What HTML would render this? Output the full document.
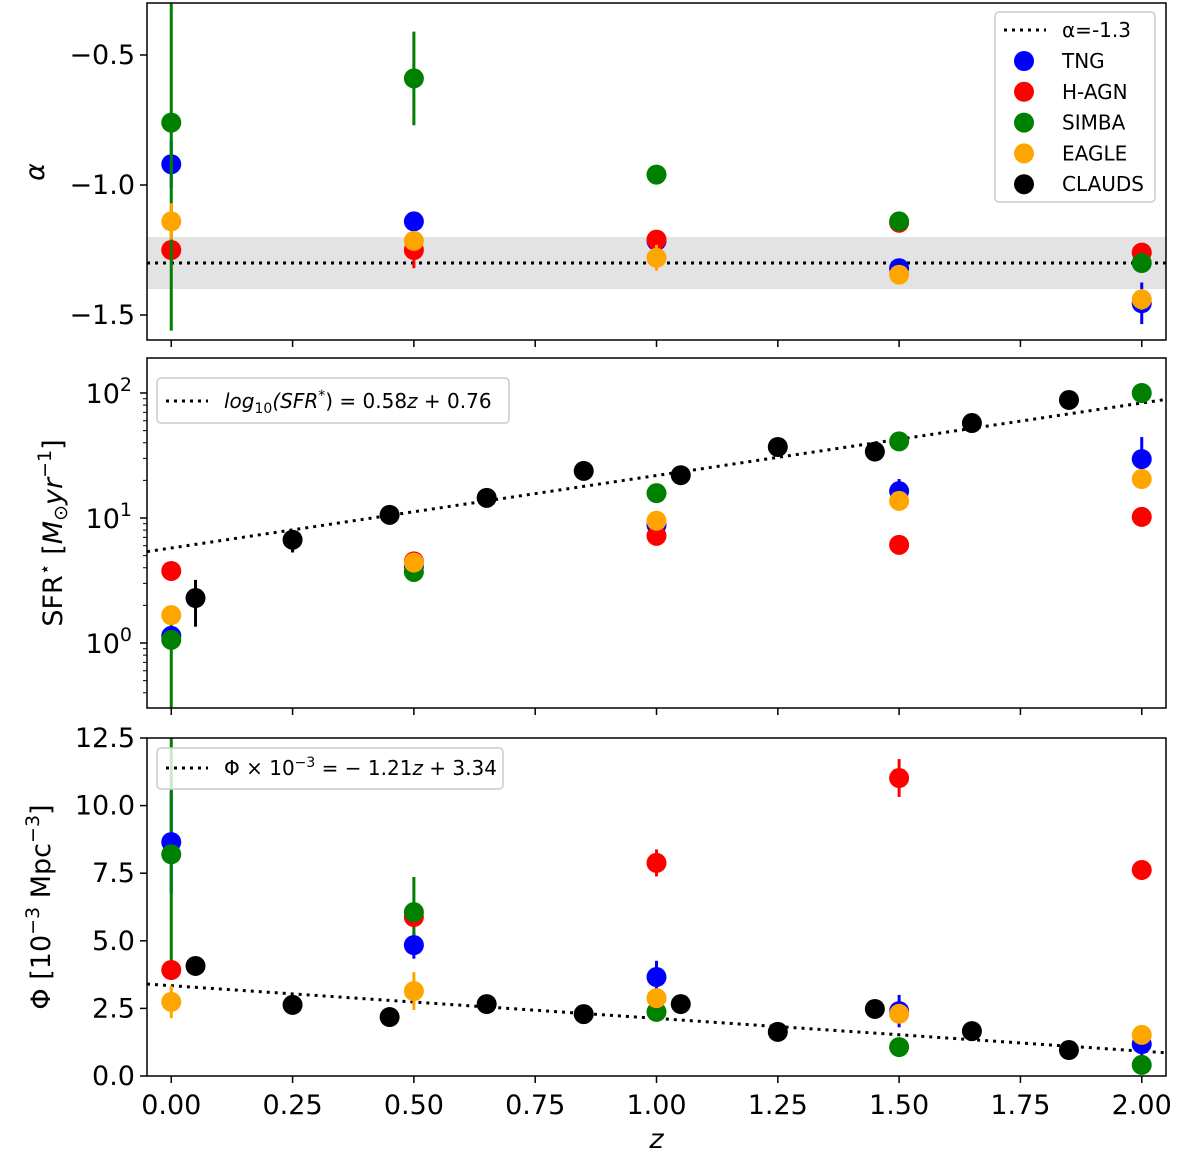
<!DOCTYPE html>
<html><head><meta charset="utf-8"><style>
body{margin:0;background:#fff}
svg{display:block;font-family:"DejaVu Sans","Liberation Sans",sans-serif}
</style></head><body>
<svg id="chart" width="1200" height="1166" viewBox="0 0 1200 1166" xmlns="http://www.w3.org/2000/svg"></svg>
<script>
const zTicks=[0,0.25,0.5,0.75,1,1.25,1.5,1.75,2];
const zTickLabels=["0.00","0.25","0.50","0.75","1.00","1.25","1.50","1.75","2.00"];
const simZ=[0,0.5,1,1.5,2];
const claudsZ=[0.05,0.25,0.45,0.65,0.85,1.05,1.25,1.45,1.65,1.85];
// alpha panel
const alphaTNG=[-0.92,-1.14,-1.215,-1.32,-1.455];
const alphaTNGerr=[0.09,0.02,0.03,0.03,0.08];
const alphaHAGN=[-1.25,-1.25,-1.21,-1.145,-1.26];
const alphaHAGNerr=[0.02,0.07,0.02,0.02,0.02];
const alphaSIMBA=[-0.76,-0.59,-0.96,-1.14,-1.30];
const alphaSIMBAerr=[0.8,0.18,0.02,0.02,0.02];
const alphaEAGLE=[-1.14,-1.215,-1.28,-1.345,-1.44];
const alphaEAGLEerr=[0.07,0.03,0.05,0.02,0.04];
const alphaTicks=[-0.5,-1.0,-1.5];
const alphaTickLabels=["\u22120.5","\u22121.0","\u22121.5"];
// SFR panel
const sfrTNG=[1.14,4.1,8.8,16.4,29.6];
const sfrHAGN=[3.77,4.5,7.2,6.1,10.2];
const sfrSIMBA=[1.06,3.7,15.8,41,100];
const sfrEAGLE=[1.67,4.4,9.5,13.7,20.5];
const sfrCLAUDS=[2.29,6.7,10.6,14.5,23.8,22,37,34,57.5,88];
const sfrTicks=[0,1,2];
// Phi panel
const phiTNG=[8.65,4.84,3.66,2.4,1.18];
const phiTNGerr=[1.9,0.5,0.6,0.6,0.7];
const phiHAGN=[3.92,5.88,7.88,11.02,7.62];
const phiHAGNerr=[0.3,0.3,0.5,0.7,0.2];
const phiSIMBA=[8.2,6.06,2.37,1.07,0.41];
const phiSIMBAerr=[4.4,1.3,0.2,0.1,0.1];
const phiEAGLE=[2.74,3.14,2.88,2.3,1.52];
const phiEAGLEerr=[0.6,0.7,0.3,0.3,0.3];
const phiCLAUDS=[4.07,2.63,2.18,2.66,2.29,2.66,1.63,2.48,1.66,0.96];
const phiTicks=[0,2.5,5,7.5,10,12.5];
const phiTickLabels=["0.0","2.5","5.0","7.5","10.0","12.5"];

const svg=document.getElementById('chart');
const NS="http://www.w3.org/2000/svg";
function el(tag,attrs,parent){const e=document.createElementNS(NS,tag);for(const k in attrs)e.setAttribute(k,attrs[k]);(parent||svg).appendChild(e);return e;}
const X0=147,X1=1166;
const FS=27;
function xs(z){return X0+(z+0.05)/2.1*(X1-X0);}
const C={TNG:"#0000ff",HAGN:"#ff0000",SIMBA:"#008000",EAGLE:"#ffa500",CLAUDS:"#000000"};

function frame(top,bot,name){
  const g=el('g',{});
  
  
  zTicks.forEach((t,i)=>{el('line',{x1:xs(t),x2:xs(t),y1:bot,y2:bot+7,stroke:'#000','stroke-width':1.5},g);});
  return g;
}
function border(top,bot){el('rect',{x:X0,y:top,width:X1-X0,height:bot-top,fill:'none',stroke:'#000','stroke-width':1.5});}
function errbar(x,y1,y2,col,top,bot){y1=Math.max(top,Math.min(bot,y1));y2=Math.max(top,Math.min(bot,y2));const l=el('line',{x1:x,x2:x,y1:y1,y2:y2,stroke:col,'stroke-width':3});}
function dot(x,y,col,name){const c=el('circle',{cx:x,cy:y,r:10,fill:col});}
function ytick(y,label){el('line',{x1:X0-7,x2:X0,y1:y,y2:y,stroke:'#000','stroke-width':1.5});if(label!==null){const t=el('text',{x:X0-12,y:y+9,'text-anchor':'end','font-size':FS});t.textContent=label;}}

// ---- Panel 1 ----
const P1t=3,P1b=340;
function ya(v){return 55+(-0.5-v)*260;}
frame(P1t,P1b,'alpha-panel');
el('rect',{x:X0,y:ya(-1.2),width:X1-X0,height:ya(-1.4)-ya(-1.2),fill:'#e3e3e3'});
el('line',{x1:X0,x2:X1,y1:ya(-1.3),y2:ya(-1.3),stroke:'#000','stroke-width':3,'stroke-dasharray':'3,5'});
const p1=[[alphaTNG,alphaTNGerr,'TNG'],[alphaHAGN,alphaHAGNerr,'HAGN'],[alphaSIMBA,alphaSIMBAerr,'SIMBA'],[alphaEAGLE,alphaEAGLEerr,'EAGLE']];
p1.forEach(([v,e,k])=>simZ.forEach((z,i)=>{errbar(xs(z),ya(v[i]+e[i]),ya(v[i]-e[i]),C[k],P1t,P1b);dot(xs(z),ya(v[i]),C[k],'alpha-'+k.toLowerCase()+'-point');}));
alphaTicks.forEach((t,i)=>ytick(ya(t),alphaTickLabels[i]));
border(P1t,P1b);
let t=el('text',{x:44,y:172,'font-size':FS,'font-style':'italic','text-anchor':'middle',transform:'rotate(-90 44 172)'});t.textContent='α';
const lg=el('g',{});
el('rect',{x:995,y:12,width:160,height:190,rx:4,fill:'#fff','fill-opacity':0.8,stroke:'#ccc','stroke-width':1.5},lg);
el('line',{x1:1004,x2:1046,y1:30,y2:30,stroke:'#000','stroke-width':3,'stroke-dasharray':'3,5'},lg);
let tt=el('text',{x:1062,y:37,'font-size':20},lg);tt.textContent='α=-1.3';
[['TNG','TNG'],['HAGN','H-AGN'],['SIMBA','SIMBA'],['EAGLE','EAGLE'],['CLAUDS','CLAUDS']].forEach(([k,n],i)=>{const y=61+i*30.8;el('circle',{cx:1024,cy:y,r:10,fill:C[k]},lg);const tx=el('text',{x:1062,y:y+7,'font-size':20},lg);tx.textContent=n;});

// ---- Panel 2 ----
const P2t=358,P2b=708;
function ys(v){return 393+(2-Math.log10(v))*125;}
frame(P2t,P2b,'sfr-panel');
el('line',{x1:X0,x2:X1,y1:ys(Math.pow(10,0.58*-0.05+0.76)),y2:ys(Math.pow(10,0.58*2.05+0.76)),stroke:'#000','stroke-width':3,'stroke-dasharray':'3,5'});
const p2=[[sfrTNG,'TNG'],[sfrHAGN,'HAGN'],[sfrSIMBA,'SIMBA'],[sfrEAGLE,'EAGLE']];
errbar(xs(0),ys(1.7),ys(0.3),C.SIMBA,P2t,P2b);
errbar(xs(2),ys(sfrTNG[4]*1.5),ys(sfrTNG[4]*0.75),C.TNG,P2t,P2b);
errbar(xs(1.5),ys(sfrTNG[3]*1.25),ys(sfrTNG[3]*0.85),C.TNG,P2t,P2b);
errbar(xs(2),ys(120),ys(85),C.SIMBA,P2t,P2b);
errbar(xs(0.05),ys(3.2),ys(1.35),C.CLAUDS,P2t,P2b);
errbar(xs(0.25),ys(7.8),ys(5.3),C.CLAUDS,P2t,P2b);
p2.forEach(([v,k])=>simZ.forEach((z,i)=>{errbar(xs(z),ys(v[i]*1.12),ys(v[i]/1.12),C[k],P2t,P2b);dot(xs(z),ys(v[i]),C[k],'sfr-'+k.toLowerCase()+'-point');}));
claudsZ.forEach((z,i)=>dot(xs(z),ys(sfrCLAUDS[i]),C.CLAUDS,'sfr-clauds-point'));
sfrTicks.forEach(p=>{const y=ys(Math.pow(10,p));el('line',{x1:X0-7,x2:X0,y1:y,y2:y,stroke:'#000','stroke-width':1.5});const tx=el('text',{x:X0-15,y:y+10,'text-anchor':'end','font-size':FS});tx.textContent='10';const s=el('tspan',{dy:-12,'font-size':19},tx);s.textContent=String(p);});
[-1,0,1,2].forEach(p=>{for(let m=2;m<10;m++){const v=m*Math.pow(10,p);const y=ys(v);if(y>P2t&&y<P2b)el('line',{x1:X0-4,x2:X0,y1:y,y2:y,stroke:'#000','stroke-width':1});}});
border(P2t,P2b);
t=el('text',{x:62,y:533,'font-size':FS,'text-anchor':'middle',transform:'rotate(-90 62 533)'});
t.innerHTML='SFR<tspan dy="-11" font-size="19">⋆</tspan><tspan dy="11"> [</tspan><tspan font-style="italic">M</tspan><tspan dy="5" font-size="19">⊙</tspan><tspan dy="-5" font-style="italic">yr</tspan><tspan dy="-11" font-size="19">−1</tspan><tspan dy="11">]</tspan>';
const lg2=el('g',{});
el('rect',{x:157,y:378,width:352,height:45,rx:4,fill:'#fff','fill-opacity':0.8,stroke:'#ccc','stroke-width':1.5},lg2);
el('line',{x1:166,x2:208,y1:401,y2:401,stroke:'#000','stroke-width':3,'stroke-dasharray':'3,5'},lg2);
tt=el('text',{x:224,y:408,'font-size':20},lg2);tt.innerHTML='<tspan font-style="italic">log</tspan><tspan dy="5" font-size="14">10</tspan><tspan dy="-5" font-style="italic">(SFR</tspan><tspan dy="-8" font-size="14">*</tspan><tspan dy="8">) = 0.58</tspan><tspan font-style="italic">z</tspan><tspan> + 0.76</tspan>';

// ---- Panel 3 ----
const P3t=738,P3b=1076;
function yp(v){return 1076-v*(1076-738)/12.5;}
frame(P3t,P3b,'phi-panel');
el('line',{x1:X0,x2:X1,y1:yp(-1.21*-0.05+3.34),y2:yp(-1.21*2.05+3.34),stroke:'#000','stroke-width':3,'stroke-dasharray':'3,5'});
const p3=[[phiTNG,phiTNGerr,'TNG'],[phiHAGN,phiHAGNerr,'HAGN'],[phiSIMBA,phiSIMBAerr,'SIMBA'],[phiEAGLE,phiEAGLEerr,'EAGLE']];
p3.forEach(([v,e,k])=>simZ.forEach((z,i)=>{errbar(xs(z),yp(v[i]+e[i]),yp(v[i]-e[i]),C[k],P3t,P3b);}));
p3.forEach(([v,e,k])=>simZ.forEach((z,i)=>{dot(xs(z),yp(v[i]),C[k],'phi-'+k.toLowerCase()+'-point');}));
claudsZ.forEach((z,i)=>dot(xs(z),yp(phiCLAUDS[i]),C.CLAUDS,'phi-clauds-point'));
phiTicks.forEach((v,i)=>ytick(yp(v),phiTickLabels[i]));
border(P3t,P3b);
t=el('text',{x:50,y:907,'font-size':FS,'text-anchor':'middle',transform:'rotate(-90 50 907)'});
t.innerHTML='Φ [10<tspan dy="-11" font-size="19">−3</tspan><tspan dy="11"> Mpc</tspan><tspan dy="-11" font-size="19">−3</tspan><tspan dy="11">]</tspan>';
const lg3=el('g',{});
el('rect',{x:157,y:748,width:346,height:41,rx:4,fill:'#fff','fill-opacity':0.8,stroke:'#ccc','stroke-width':1.5},lg3);
el('line',{x1:166,x2:208,y1:768,y2:768,stroke:'#000','stroke-width':3,'stroke-dasharray':'3,5'},lg3);
tt=el('text',{x:224,y:775,'font-size':20},lg3);tt.innerHTML='Φ × 10<tspan dy="-8" font-size="14">−3</tspan><tspan dy="8"> = − 1.21</tspan><tspan font-style="italic">z</tspan><tspan> + 3.34</tspan>';

zTicks.forEach((z,i)=>{const tx=el('text',{x:xs(z),y:1114,'text-anchor':'middle','font-size':FS});tx.textContent=zTickLabels[i];});
t=el('text',{x:xs(1),y:1148,'text-anchor':'middle','font-size':FS,'font-style':'italic'});t.textContent='z';
</script>
</body></html>
